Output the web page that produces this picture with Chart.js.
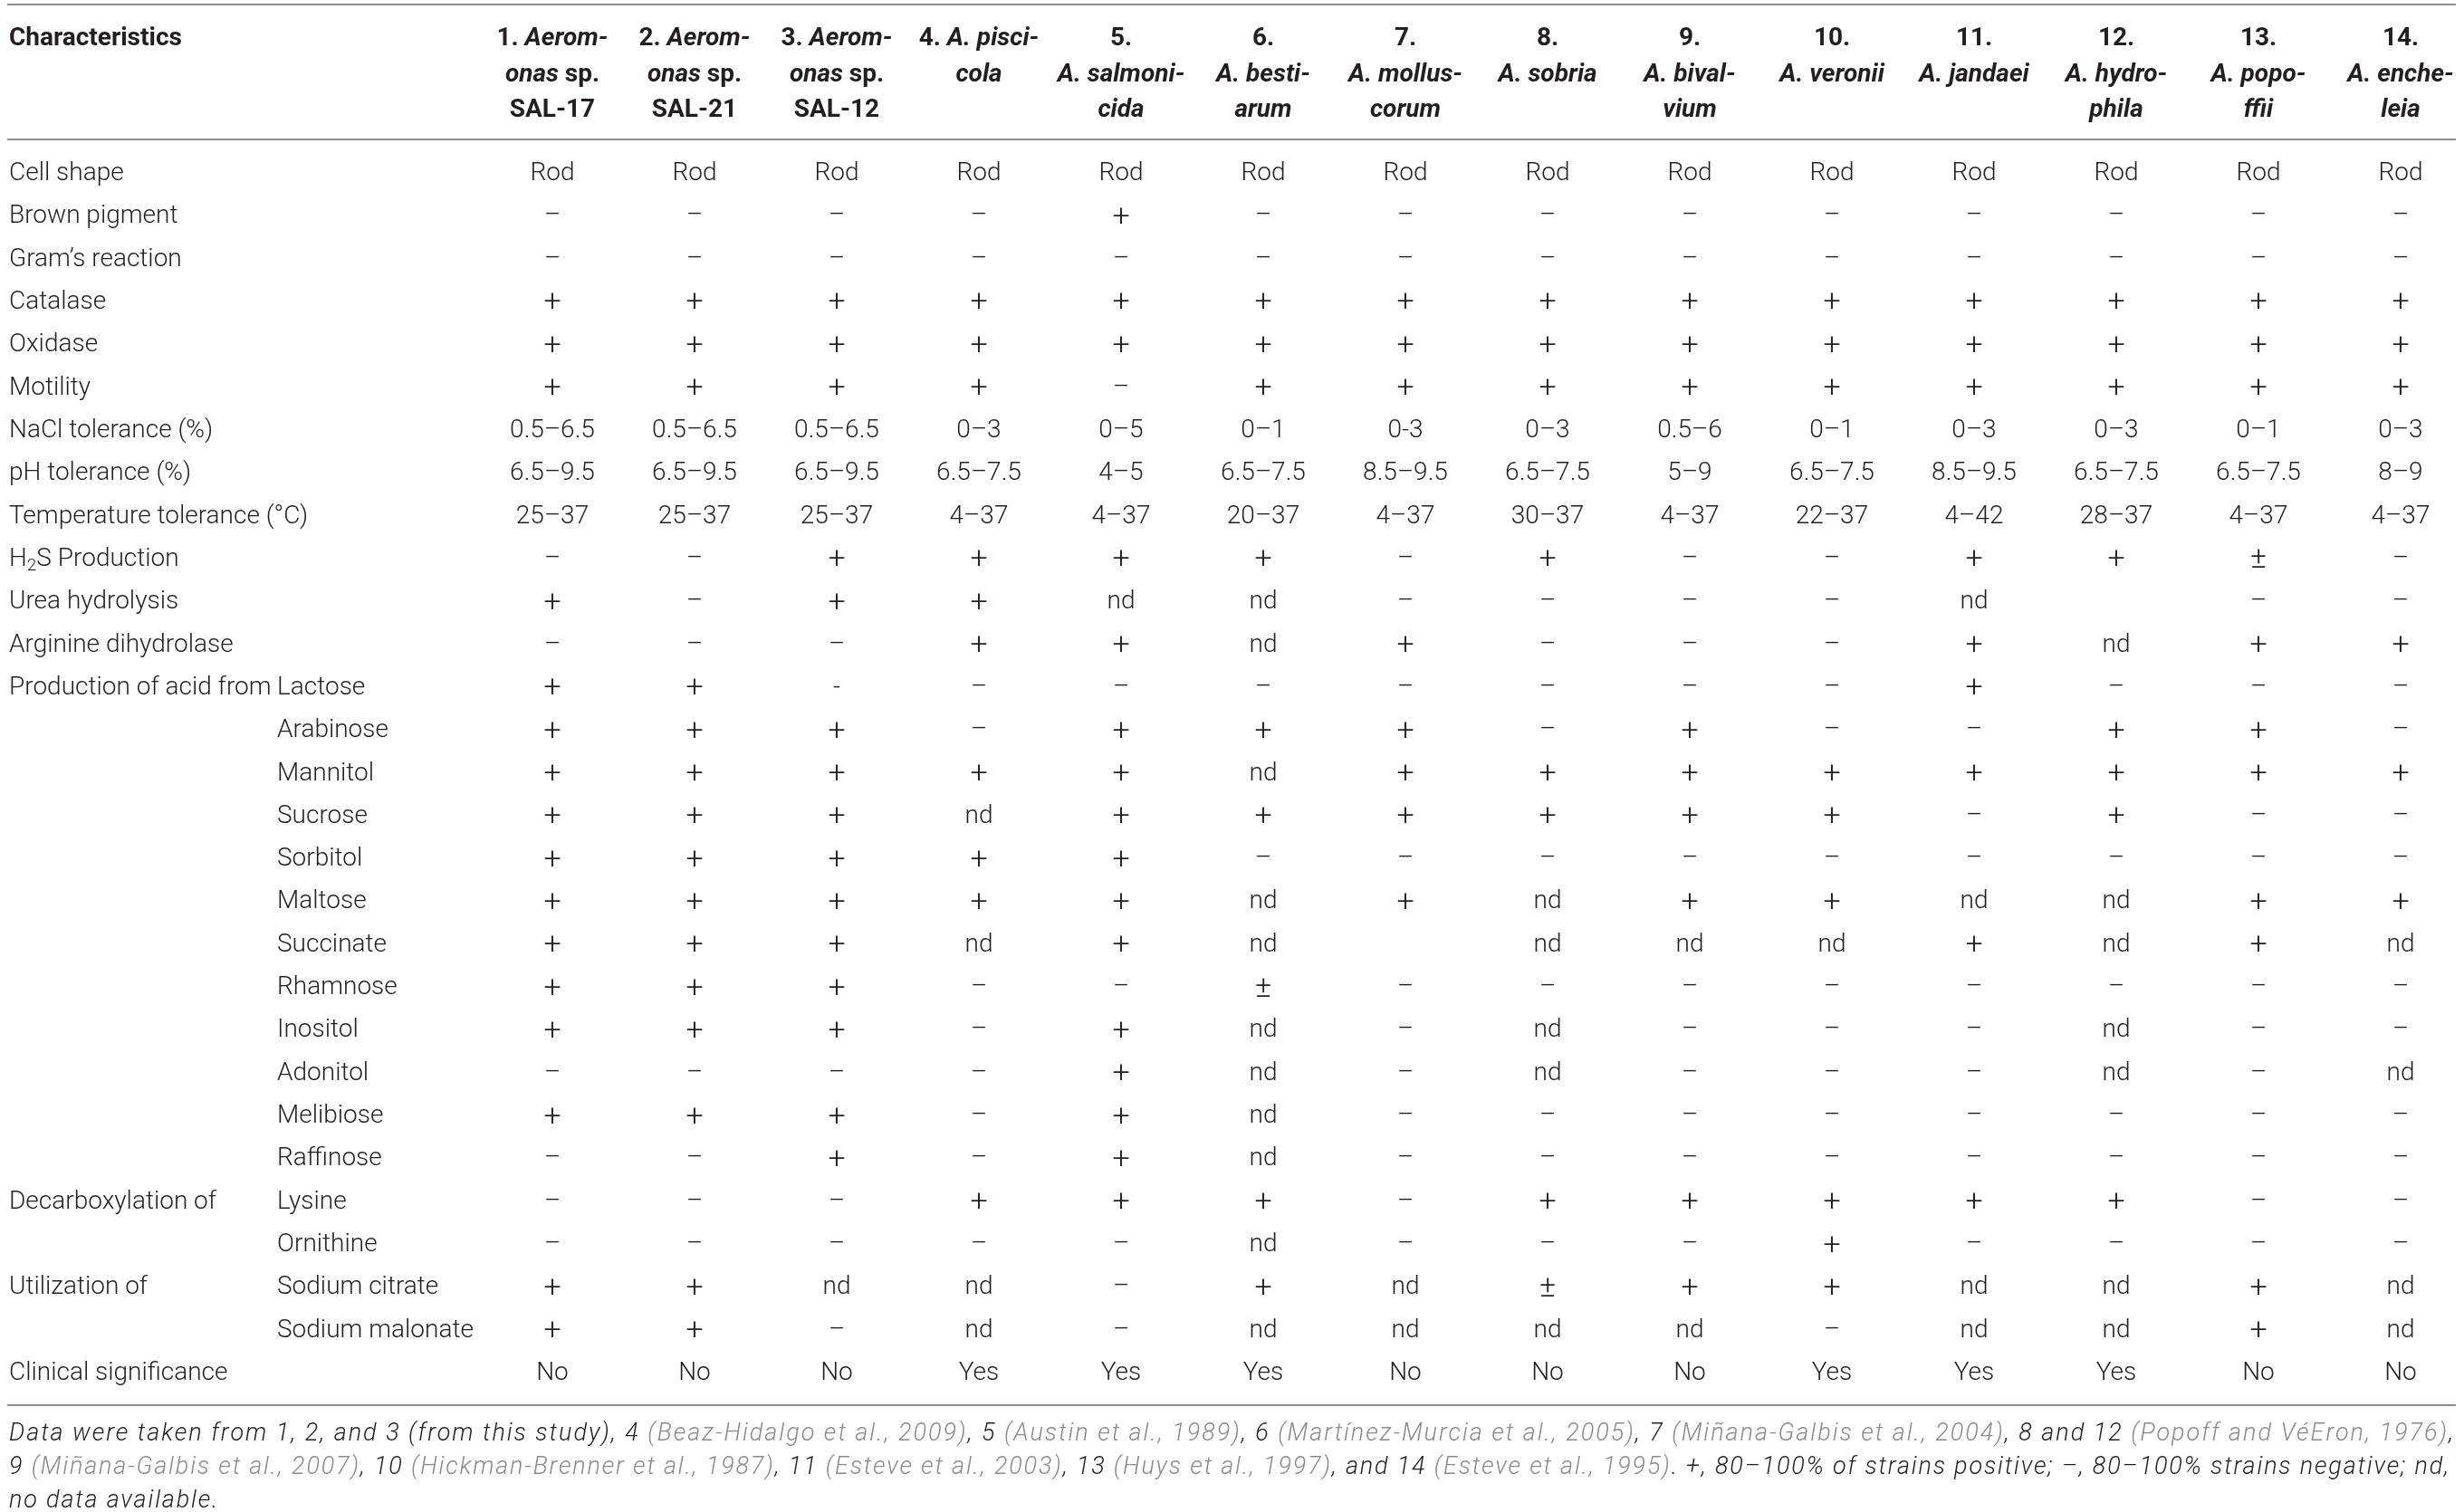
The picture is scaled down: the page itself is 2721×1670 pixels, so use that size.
<!DOCTYPE html>
<html>
<head>
<meta charset="utf-8">
<title>Aeromonas characteristics</title>
<script src="https://cdn.jsdelivr.net/npm/chart.js@4.4.1/dist/chart.umd.min.js"></script>
<style>
  html, body { margin: 0; padding: 0; background: #fff; }
  #wrap { width: 2721px; height: 1670px; }
</style>
</head>
<body>
<div id="wrap"><canvas id="traitTable" width="2721" height="1670"></canvas></div>
<script>
"use strict";

// Strain columns (x categories). "*" at the start of a run = italic
const strainIds = ['1', '2', '3', '4', '5', '6', '7', '8', '9', '10', '11', '12', '13', '14'];
const strainHeads = [
    [['1. ', '*Aerom-'], ['*onas', ' sp.'], ['SAL-17']],
    [['2. ', '*Aerom-'], ['*onas', ' sp.'], ['SAL-21']],
    [['3. ', '*Aerom-'], ['*onas', ' sp.'], ['SAL-12']],
    [['4. ', '*A. pisci-'], ['*cola']],
    [['5.'], ['*A. salmoni-'], ['*cida']],
    [['6.'], ['*A. besti-'], ['*arum']],
    [['7.'], ['*A. mollus-'], ['*corum']],
    [['8.'], ['*A. sobria']],
    [['9.'], ['*A. bival-'], ['*vium']],
    [['10.'], ['*A. veronii']],
    [['11.'], ['*A. jandaei']],
    [['12.'], ['*A. hydro-'], ['*phila']],
    [['13.'], ['*A. popo-'], ['*ffii']],
    [['14.'], ['*A. enche-'], ['*leia']]
];

// Row labels (y categories): group label + sub label
const rowLabels = ['Cell shape', 'Brown pigment', 'Gram\u2019s reaction', 'Catalase', 'Oxidase', 'Motility',
    'NaCl tolerance (%)', 'pH tolerance (%)', 'Temperature tolerance (\u00b0C)', 'H2S Production',
    'Urea hydrolysis', 'Arginine dihydrolase', 'Production of acid from', '', '', '', '', '', '', '', '', '', '', '',
    'Decarboxylation of', '', 'Utilization of', '', 'Clinical significance'];
const subLabels = ['', '', '', '', '', '', '', '', '', '', '', '',
    'Lactose', 'Arabinose', 'Mannitol', 'Sucrose', 'Sorbitol', 'Maltose', 'Succinate', 'Rhamnose',
    'Inositol', 'Adonitol', 'Melibiose', 'Raffinose', 'Lysine', 'Ornithine', 'Sodium citrate', 'Sodium malonate', ''];

// Values per row, strains 1..14
const cellShape      = ['Rod', 'Rod', 'Rod', 'Rod', 'Rod', 'Rod', 'Rod', 'Rod', 'Rod', 'Rod', 'Rod', 'Rod', 'Rod', 'Rod'];
const brownPigment   = ['–', '–', '–', '–', '+', '–', '–', '–', '–', '–', '–', '–', '–', '–'];
const gramReaction   = ['–', '–', '–', '–', '–', '–', '–', '–', '–', '–', '–', '–', '–', '–'];
const catalase       = ['+', '+', '+', '+', '+', '+', '+', '+', '+', '+', '+', '+', '+', '+'];
const oxidase        = ['+', '+', '+', '+', '+', '+', '+', '+', '+', '+', '+', '+', '+', '+'];
const motility       = ['+', '+', '+', '+', '–', '+', '+', '+', '+', '+', '+', '+', '+', '+'];
const naclTolerance  = ['0.5–6.5', '0.5–6.5', '0.5–6.5', '0–3', '0–5', '0–1', '0-3', '0–3', '0.5–6', '0–1', '0–3', '0–3', '0–1', '0–3'];
const phTolerance    = ['6.5–9.5', '6.5–9.5', '6.5–9.5', '6.5–7.5', '4–5', '6.5–7.5', '8.5–9.5', '6.5–7.5', '5–9', '6.5–7.5', '8.5–9.5', '6.5–7.5', '6.5–7.5', '8–9'];
const tempTolerance  = ['25–37', '25–37', '25–37', '4–37', '4–37', '20–37', '4–37', '30–37', '4–37', '22–37', '4–42', '28–37', '4–37', '4–37'];
const h2sProduction  = ['–', '–', '+', '+', '+', '+', '–', '+', '–', '–', '+', '+', '±', '–'];
const ureaHydrolysis = ['+', '–', '+', '+', 'nd', 'nd', '–', '–', '–', '–', 'nd', '', '–', '–'];
const arginineDihyd  = ['–', '–', '–', '+', '+', 'nd', '+', '–', '–', '–', '+', 'nd', '+', '+'];
const lactose        = ['+', '+', '-', '–', '–', '–', '–', '–', '–', '–', '+', '–', '–', '–'];
const arabinose      = ['+', '+', '+', '–', '+', '+', '+', '–', '+', '–', '–', '+', '+', '–'];
const mannitol       = ['+', '+', '+', '+', '+', 'nd', '+', '+', '+', '+', '+', '+', '+', '+'];
const sucrose        = ['+', '+', '+', 'nd', '+', '+', '+', '+', '+', '+', '–', '+', '–', '–'];
const sorbitol       = ['+', '+', '+', '+', '+', '–', '–', '–', '–', '–', '–', '–', '–', '–'];
const maltose        = ['+', '+', '+', '+', '+', 'nd', '+', 'nd', '+', '+', 'nd', 'nd', '+', '+'];
const succinate      = ['+', '+', '+', 'nd', '+', 'nd', '', 'nd', 'nd', 'nd', '+', 'nd', '+', 'nd'];
const rhamnose       = ['+', '+', '+', '–', '–', '±', '–', '–', '–', '–', '–', '–', '–', '–'];
const inositol       = ['+', '+', '+', '–', '+', 'nd', '–', 'nd', '–', '–', '–', 'nd', '–', '–'];
const adonitol       = ['–', '–', '–', '–', '+', 'nd', '–', 'nd', '–', '–', '–', 'nd', '–', 'nd'];
const melibiose      = ['+', '+', '+', '–', '+', 'nd', '–', '–', '–', '–', '–', '–', '–', '–'];
const raffinose      = ['–', '–', '+', '–', '+', 'nd', '–', '–', '–', '–', '–', '–', '–', '–'];
const lysine         = ['–', '–', '–', '+', '+', '+', '–', '+', '+', '+', '+', '+', '–', '–'];
const ornithine      = ['–', '–', '–', '–', '–', 'nd', '–', '–', '–', '+', '–', '–', '–', '–'];
const sodiumCitrate  = ['+', '+', 'nd', 'nd', '–', '+', 'nd', '±', '+', '+', 'nd', 'nd', '+', 'nd'];
const sodiumMalonate = ['+', '+', '–', 'nd', '–', 'nd', 'nd', 'nd', 'nd', '–', 'nd', 'nd', '+', 'nd'];
const clinical       = ['No', 'No', 'No', 'Yes', 'Yes', 'Yes', 'No', 'No', 'No', 'Yes', 'Yes', 'Yes', 'No', 'No'];

const rowValues = [cellShape, brownPigment, gramReaction, catalase, oxidase, motility, naclTolerance,
    phTolerance, tempTolerance, h2sProduction, ureaHydrolysis, arginineDihyd, lactose, arabinose, mannitol,
    sucrose, sorbitol, maltose, succinate, rhamnose, inositol, adonitol, melibiose, raffinose, lysine,
    ornithine, sodiumCitrate, sodiumMalonate, clinical];

// Footnote runs: [text, isReference]
const footLines = [
    [['Data were taken from 1, 2, and 3 (from this study), 4 ', 0], ['(Beaz-Hidalgo et al., 2009)', 1], [', 5 ', 0],
     ['(Austin et al., 1989)', 1], [', 6 ', 0], ['(Martínez-Murcia et al., 2005)', 1], [', 7 ', 0],
     ['(Miñana-Galbis et al., 2004)', 1], [', 8 and 12 ', 0], ['(Popoff and VéEron, 1976)', 1], [',', 0]],
    [['9 ', 0], ['(Miñana-Galbis et al., 2007)', 1], [', 10 ', 0], ['(Hickman-Brenner et al., 1987)', 1], [', 11 ', 0],
     ['(Esteve et al., 2003)', 1], [', 13 ', 0], ['(Huys et al., 1997)', 1], [', and 14 ', 0], ['(Esteve et al., 1995)', 1],
     ['. +, 80–100% of strains positive; –, 80–100% strains negative; nd,', 0]],
    [['no data available.', 0]]
];
// right edge each footnote line reaches in the reference
const footEnds = [2711, 2706, 0];

const FAMILY = 'Roboto, "Liberation Sans", Arial, sans-serif';
const INK = '#231f20';
const REF_INK = '#8b8b8b';
const RULE = '#8e8e8e';

const rowKeys = rowLabels.map((l, i) => i + '|' + l + subLabels[i]);

// one invisible point per filled cell
const cells = [];
rowValues.forEach((vals, r) => {
    vals.forEach((v, c) => {
        if (v !== '') cells.push({ x: strainIds[c], y: rowKeys[r], v: v });
    });
});

function drawRuns(ctx, runs, cx, y, size, weight) {
    const fonts = runs.map(t => (t[0] === '*' ? 'italic ' : '') + weight + ' ' + size + 'px ' + FAMILY);
    const texts = runs.map(t => t[0] === '*' ? t.slice(1) : t);
    let total = 0;
    const widths = texts.map((t, i) => { ctx.font = fonts[i]; const w = ctx.measureText(t).width; total += w; return w; });
    let x = cx - total / 2;
    ctx.textAlign = 'left';
    texts.forEach((t, i) => { ctx.font = fonts[i]; ctx.fillText(t, x, y); x += widths[i]; });
}

const tablePlugin = {
    id: 'tablePlugin',
    afterDatasetsDraw(chart) {
        const ctx = chart.ctx;
        const xs = chart.scales.x;
        const ys = chart.scales.y;
        const W = chart.width;
        ctx.save();
        ctx.fillStyle = INK;
        ctx.textBaseline = 'middle';

        // horizontal rules
        ctx.strokeStyle = RULE;
        ctx.lineWidth = 2;
        [5, 154, 1552].forEach(y => {
            ctx.beginPath(); ctx.moveTo(8, y); ctx.lineTo(W - 9, y); ctx.stroke();
        });

        // header
        ctx.font = '700 28px ' + FAMILY;
        ctx.textAlign = 'left';
        ctx.fillText('Characteristics', 10, 43);
        const headY = [43, 83, 122];
        strainHeads.forEach((lines, c) => {
            const cx = xs.getPixelForTick(c);
            lines.forEach((runs, li) => drawRuns(ctx, runs, cx, headY[li], 28, '700'));
        });

        // row labels
        rowKeys.forEach((k, r) => {
            const y = ys.getPixelForTick(r);
            ctx.font = '300 28px ' + FAMILY;
            ctx.textAlign = 'left';
            const lab = rowLabels[r];
            if (lab === 'H2S Production') {
                let x = 10;
                ctx.fillText('H', x, y); x += ctx.measureText('H').width;
                ctx.font = '300 19px ' + FAMILY;
                ctx.fillText('2', x, y + 7); x += ctx.measureText('2').width;
                ctx.font = '300 28px ' + FAMILY;
                ctx.fillText('S Production', x, y);
            } else if (lab) {
                ctx.fillText(lab, 10, y);
            }
            if (subLabels[r]) ctx.fillText(subLabels[r], 306, y);
        });

        // cell values at the points placed by the scales
        ctx.textAlign = 'center';
        const meta = chart.getDatasetMeta(0);
        meta.data.forEach((pt, i) => {
            const v = cells[i].v;
            const sign = v === '+' || v === '±';
            ctx.font = '300 ' + (sign ? 34 : 28) + 'px ' + FAMILY;
            ctx.fillText(v, pt.x, pt.y + (sign ? 1 : 0));
        });

        // footnote, italic, each full line spread to its reference width
        ctx.font = 'italic 300 27px ' + FAMILY;
        ctx.textAlign = 'left';
        const footY = [1584, 1621, 1658];
        let lastSpacing = 0;
        footLines.forEach((runs, li) => {
            const txt = runs.map(t => t[0]).join('');
            if ('letterSpacing' in ctx) {
                ctx.letterSpacing = '0px';
                if (footEnds[li]) {
                    const w = ctx.measureText(txt).width;
                    lastSpacing = Math.max(0, (footEnds[li] - 10 - w) / txt.length);
                }
                ctx.letterSpacing = lastSpacing.toFixed(3) + 'px';
            }
            let x = 10;
            runs.forEach(t => {
                ctx.fillStyle = t[1] ? REF_INK : INK;
                ctx.fillText(t[0], x, footY[li]);
                x += ctx.measureText(t[0]).width;
            });
        });
        ctx.restore();
    }
};

const tableChart = new Chart(document.getElementById('traitTable').getContext('2d'), {
    type: 'scatter',
    data: {
        datasets: [{
            data: cells,
            pointRadius: 0,
            pointHoverRadius: 0,
            showLine: false
        }]
    },
    options: {
        responsive: false,
        animation: false,
        devicePixelRatio: 1,
        events: [],
        layout: { padding: { left: 610, right: 70, top: 192, bottom: 153 } },
        plugins: { legend: { display: false }, tooltip: { enabled: false } },
        scales: {
            x: { type: 'category', labels: strainIds, offset: false, display: false },
            y: { type: 'category', labels: rowKeys, offset: false, display: false }
        }
    },
    plugins: [tablePlugin]
});
</script>
</body>
</html>
